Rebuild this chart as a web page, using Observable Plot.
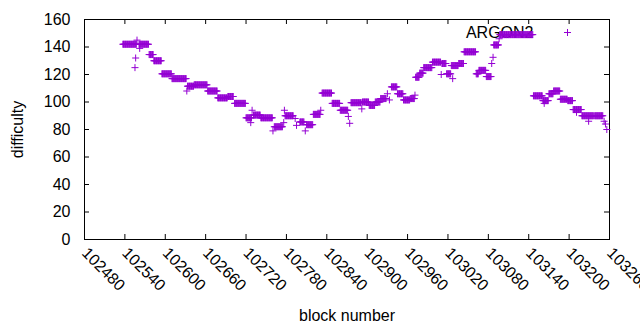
<!DOCTYPE html>
<html><head><meta charset="utf-8">
<script src="https://cdn.jsdelivr.net/npm/d3@7"></script>
<script src="https://cdn.jsdelivr.net/npm/@observablehq/plot@0.6"></script>
<style>body{margin:0;background:#fff}</style>
</head><body><div id="chart"></div>
<script>
const seriesName = "ARGON2";
// runs of consecutive blocks sharing one difficulty (start block, end block, difficulty)
const runStart = [102537,102561,102576,102583,102595,102610,102633,102643,102663,102678,102693,102703,102720,102731,102742,102762,102778,102800,102810,102820,102833,102848,102860,102876,102893,102903,102912,102920,102936,102945,102954,102964,102972,102978,102984,102997,103011,103018,103025,103036,103044,103062,103066,103077,103088,103097,103147,103161,103170,103177,103187,103198,103206,103219,103238];
const runEnd = [102557,102575,102582,102594,102609,102631,102642,102662,102677,102692,102701,102719,102728,102741,102759,102774,102790,102806,102819,102830,102847,102859,102871,102891,102902,102911,102919,102928,102944,102953,102963,102970,102977,102983,102996,103009,103017,103024,103035,103043,103061,103065,103076,103084,103095,103146,103160,103169,103176,103186,103197,103205,103218,103236,103250];
const runDifficulty = [142,142,134.5,130,120.5,117,111.5,112.5,108,103,104,99,88.5,90.5,88.5,82,90,85.5,83.5,91,106.5,99,94,99.5,100,97.5,100,102.5,111,106,101.5,102.5,118,121,125,129,128,120.5,126.5,128,136.5,120.5,123,118.5,141.5,149,104.5,101,106,108,102,101,94.5,90,90];
// single blocks off their neighbours' level
const outlierBlock = [102558,102562,102556,102555,102632,102729,102727,102760,102776,102777,102793,102795,102808,102831,102872,102874,102892,102930,102933,102971,103010,103027,103085,103087,103096,103163,103211,103229,103252,103254,103256];
const outlierDifficulty = [145,139,132,125,108,94,85,79,85,94,88,83,79,94,89.5,84.5,95,106,101.5,105,120,117,128,132.5,146,99,92.5,86,86,84,80];
const xTicks = [102480,102540,102600,102660,102720,102780,102840,102900,102960,103020,103080,103140,103200,103260];
const yTicks = [0,20,40,60,80,100,120,140,160];

const points = [];
runStart.forEach((s, i) => {
  for (let b = s; b <= runEnd[i]; b++) points.push({block: b, difficulty: runDifficulty[i]});
});
outlierBlock.forEach((b, i) => points.push({block: b, difficulty: outlierDifficulty[i]}));

const color = "#9400d3";
const innerW = 640 - 84 - 31, innerH = 330 - 19 - 91, tick = 5;
const chart = Plot.plot({
  width: 640, height: 330,
  marginLeft: 84, marginRight: 31, marginTop: 19, marginBottom: 91,
  style: {fontFamily: "'Liberation Sans', Arial, sans-serif", fontSize: "16px", color: "black", background: "white"},
  x: {domain: [102480, 103260]},
  y: {domain: [0, 160]},
  marks: [
    Plot.axisX(xTicks, {anchor: "bottom", tickSize: 0, tickPadding: 11, tickRotate: 45, textAnchor: "start", tickFormat: d3.format("d"), label: null}),
    Plot.axisY(yTicks, {anchor: "left", tickSize: 0, tickPadding: 14, tickFormat: d3.format("d"), label: null}),
    Plot.tickX(xTicks, {x: d => d, insetTop: innerH - tick, stroke: "black"}),
    Plot.tickX(xTicks, {x: d => d, insetBottom: innerH - tick, stroke: "black"}),
    Plot.tickY(yTicks, {y: d => d, insetRight: innerW - tick, stroke: "black"}),
    Plot.tickY(yTicks, {y: d => d, insetLeft: innerW - tick, stroke: "black"}),
    Plot.frame({stroke: "black"}),
    Plot.text([seriesName], {text: d => d, frameAnchor: "top-right", textAnchor: "end", lineAnchor: "middle", dx: -76, dy: 13}),
    Plot.dot([seriesName], {x: null, y: null, frameAnchor: "top-right", dx: -42, dy: 13, symbol: "plus", r: 2.4, stroke: color, strokeWidth: 1}),
    Plot.dot(points, {x: "block", y: "difficulty", symbol: "plus", r: 2.4, stroke: color, strokeWidth: 1}),
    Plot.text(["difficulty"], {text: d => d, frameAnchor: "left", textAnchor: "middle", lineAnchor: "middle", rotate: -90, dx: -67}),
    Plot.text(["block number"], {text: d => d, frameAnchor: "bottom", textAnchor: "middle", lineAnchor: "middle", dy: 76})
  ]
});
document.getElementById("chart").appendChild(chart);
</script>
</body></html>
